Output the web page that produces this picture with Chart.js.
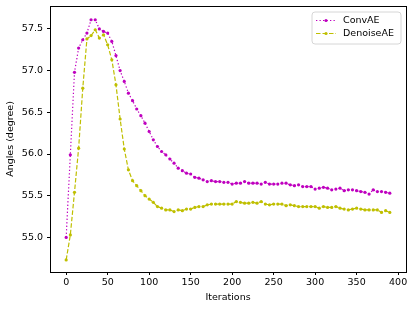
<!DOCTYPE html>
<html>
<head>
<meta charset="utf-8">
<script src="https://cdn.jsdelivr.net/npm/chart.js@4"></script>
<style>
  html, body { margin: 0; padding: 0; background: #fff; }
  #wrap { width: 415px; height: 310px; }
</style>
</head>
<body>
<div id="wrap"><canvas id="chart" width="415" height="310"></canvas></div>
<script>
// iterations 0..390, one value every 5
const iterations = [0,5,10,15,20,25,30,35,40,45,50,55,60,65,70,75,80,85,90,95,
  100,105,110,115,120,125,130,135,140,145,150,155,160,165,170,175,180,185,190,195,
  200,205,210,215,220,225,230,235,240,245,250,255,260,265,270,275,280,285,290,295,
  300,305,310,315,320,325,330,335,340,345,350,355,360,365,370,375,380,385,390];

const convAE = [55.00,55.99,56.98,57.27,57.37,57.45,57.61,57.61,57.50,57.47,
  57.45,57.35,57.18,57.00,56.87,56.73,56.64,56.54,56.46,56.37,
  56.27,56.17,56.09,56.03,55.99,55.94,55.89,55.83,55.80,55.77,
  55.76,55.72,55.71,55.69,55.67,55.68,55.67,55.67,55.66,55.66,
  55.64,55.65,55.65,55.67,55.65,55.65,55.65,55.64,55.66,55.64,
  55.64,55.64,55.65,55.65,55.63,55.62,55.63,55.61,55.61,55.61,
  55.58,55.59,55.60,55.59,55.57,55.58,55.59,55.56,55.57,55.57,
  55.56,55.55,55.54,55.52,55.57,55.55,55.55,55.54,55.53];

const denoiseAE = [54.73,55.03,55.54,56.07,56.79,57.38,57.42,57.49,57.39,57.43,
  57.31,57.13,56.83,56.42,56.06,55.81,55.68,55.62,55.56,55.50,
  55.46,55.42,55.37,55.35,55.33,55.33,55.31,55.33,55.32,55.34,
  55.34,55.36,55.37,55.37,55.39,55.40,55.40,55.40,55.40,55.40,
  55.40,55.43,55.42,55.41,55.41,55.42,55.41,55.43,55.40,55.39,
  55.40,55.40,55.40,55.38,55.39,55.38,55.37,55.37,55.37,55.37,
  55.37,55.35,55.37,55.36,55.36,55.37,55.35,55.34,55.33,55.34,
  55.35,55.34,55.33,55.33,55.33,55.33,55.30,55.32,55.30];

const xTicks = [0,50,100,150,200,250,300,350,400];
const yTicks = [55.0,55.5,56.0,56.5,57.0,57.5];

const seriesNames = ['ConvAE', 'DenoiseAE'];
const colors = ['#bf00bf', '#bfbf00'];
const dashes = [[1.3, 2.2], [4.5, 2]];

const FONT = 'DejaVu Sans';
const FSIZE = 9.5;

// frame round the plot area + legend box in the upper right
const frameAndLegend = {
  id: 'frameAndLegend',
  afterDraw(chart) {
    const { ctx, chartArea: a } = chart;
    ctx.save();
    ctx.strokeStyle = '#000';
    ctx.lineWidth = 1;
    ctx.strokeRect(Math.round(a.left) + 0.5, Math.round(a.top) + 0.5,
      Math.round(a.right - a.left), Math.round(a.bottom - a.top));

    // legend
    const bx = 312, by = 12, bw = 89, bh = 32, r = 3;
    ctx.beginPath();
    ctx.moveTo(bx + r, by);
    ctx.arcTo(bx + bw, by, bx + bw, by + bh, r);
    ctx.arcTo(bx + bw, by + bh, bx, by + bh, r);
    ctx.arcTo(bx, by + bh, bx, by, r);
    ctx.arcTo(bx, by, bx + bw, by, r);
    ctx.closePath();
    ctx.fillStyle = 'rgba(255,255,255,0.8)';
    ctx.fill();
    ctx.strokeStyle = '#d6d6d6';
    ctx.stroke();

    ctx.font = FSIZE + 'px "' + FONT + '"';
    ctx.textBaseline = 'middle';
    seriesNames.forEach((name, i) => {
      const y = 20.5 + i * 13;
      ctx.strokeStyle = colors[i];
      ctx.lineWidth = 1.2;
      ctx.setLineDash(dashes[i]);
      ctx.beginPath();
      ctx.moveTo(316, y);
      ctx.lineTo(336, y);
      ctx.stroke();
      ctx.setLineDash([]);
      ctx.fillStyle = colors[i];
      ctx.beginPath();
      ctx.arc(326, y, 1.6, 0, Math.PI * 2);
      ctx.fill();
      ctx.fillStyle = '#000';
      ctx.fillText(name, 343, y);
    });
    ctx.restore();
  }
};

new Chart(document.getElementById('chart'), {
  type: 'line',
  data: {
    datasets: [convAE, denoiseAE].map((vals, i) => ({
      label: seriesNames[i],
      data: iterations.map((x, j) => ({ x: x, y: vals[j] })),
      borderColor: colors[i],
      backgroundColor: colors[i],
      borderWidth: 1.2,
      borderDash: dashes[i],
      pointRadius: 1.6,
      pointBorderWidth: 0,
      pointBackgroundColor: colors[i],
      tension: 0,
      fill: false
    }))
  },
  options: {
    responsive: false,
    animation: false,
    layout: { padding: { left: 0, right: 9, top: 6, bottom: 0 } },
    plugins: {
      legend: { display: false },
      tooltip: { enabled: false }
    },
    scales: {
      x: {
        type: 'linear',
        min: -19.5,
        max: 409.5,
        afterBuildTicks: s => { s.ticks = xTicks.map(v => ({ value: v })); },
        afterFit: s => { s.height = 38; s.paddingLeft = 0; s.paddingRight = 0; },
        grid: { drawOnChartArea: false, drawTicks: true, tickLength: 3, tickColor: '#000' },
        border: { color: '#000' },
        ticks: { color: '#000', padding: 2, maxRotation: 0, font: { family: FONT, size: FSIZE } },
        title: { display: true, text: 'Iterations', color: '#000', padding: { top: 1, bottom: 7 },
          font: { family: FONT, size: FSIZE } }
      },
      y: {
        type: 'linear',
        min: 54.585,
        max: 57.775,
        afterBuildTicks: s => { s.ticks = yTicks.map(v => ({ value: v })); },
        afterFit: s => { s.width = 50; s.paddingTop = 0; s.paddingBottom = 0; },
        grid: { drawOnChartArea: false, drawTicks: true, tickLength: 3, tickColor: '#000' },
        border: { color: '#000' },
        ticks: { color: '#000', padding: 4, font: { family: FONT, size: FSIZE },
          callback: v => v.toFixed(1) },
        title: { display: true, text: 'Angles (degree)', color: '#000', padding: { top: 5, bottom: 4 },
          font: { family: FONT, size: FSIZE } }
      }
    }
  },
  plugins: [frameAndLegend]
});
</script>
</body>
</html>
